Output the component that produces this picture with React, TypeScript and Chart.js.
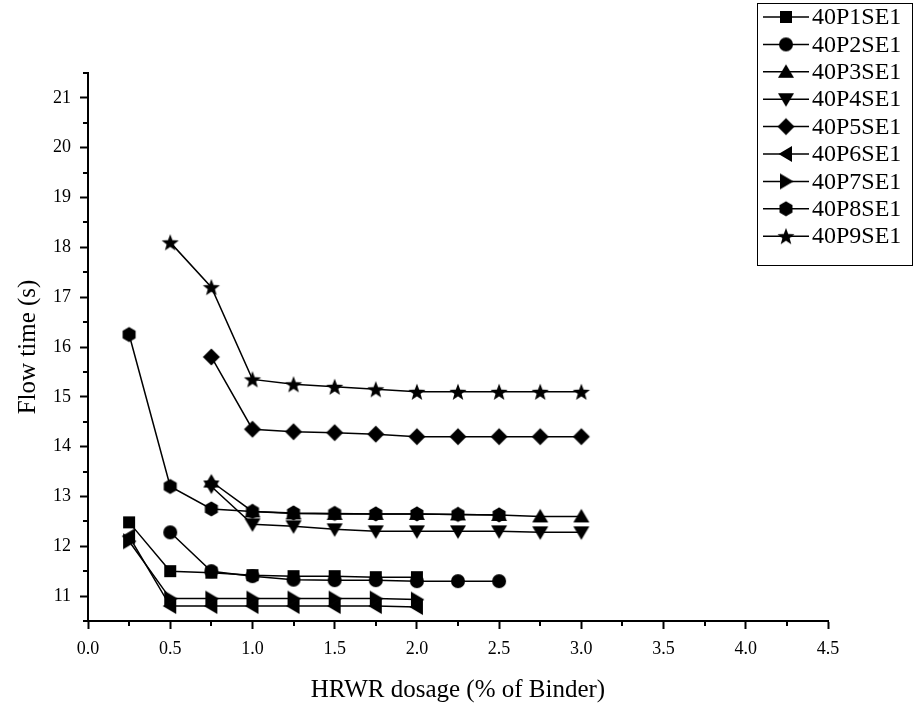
import React, { useEffect, useRef } from "react";
import { Chart, registerables } from "chart.js";

Chart.register(...registerables);

// HRWR dosage steps (% of binder)
const dosages = [0.25, 0.5, 0.75, 1.0, 1.25, 1.5, 1.75, 2.0, 2.25, 2.5, 2.75, 3.0];

// Flow time (s) per mix; each series starts at the dosage given in its start value
const p1Start = 0.25;
const p1Flow = [12.48, 11.5, 11.47, 11.42, 11.4, 11.4, 11.38, 11.38];
const p2Start = 0.5;
const p2Flow = [12.28, 11.5, 11.4, 11.33, 11.32, 11.32, 11.3, 11.3, 11.3];
const p3Start = 0.75;
const p3Flow = [13.3, 12.7, 12.66, 12.65, 12.65, 12.65, 12.64, 12.63, 12.6, 12.6];
const p4Start = 0.75;
const p4Flow = [13.2, 12.44, 12.4, 12.34, 12.3, 12.3, 12.3, 12.3, 12.28, 12.28];
const p5Start = 0.75;
const p5Flow = [15.8, 14.35, 14.3, 14.28, 14.25, 14.2, 14.2, 14.2, 14.2, 14.2];
const p6Start = 0.25;
const p6Flow = [12.2, 10.8, 10.8, 10.8, 10.8, 10.8, 10.8, 10.78];
const p7Start = 0.25;
const p7Flow = [12.1, 10.95, 10.95, 10.95, 10.95, 10.95, 10.95, 10.93];
const p8Start = 0.25;
const p8Flow = [16.25, 13.2, 12.75, 12.7, 12.67, 12.66, 12.65, 12.65, 12.64, 12.63];
const p9Start = 0.5;
const p9Flow = [18.1, 17.2, 15.35, 15.25, 15.2, 15.15, 15.1, 15.1, 15.1, 15.1, 15.1];

const seriesNames = [
  "40P1SE1", "40P2SE1", "40P3SE1", "40P4SE1", "40P5SE1",
  "40P6SE1", "40P7SE1", "40P8SE1", "40P9SE1",
];

const xTickLabels = ["0.0", "0.5", "1.0", "1.5", "2.0", "2.5", "3.0", "3.5", "4.0", "4.5"];
const yTickValues = [11, 12, 13, 14, 15, 16, 17, 18, 19, 20, 21];

const SERIF = "'Liberation Serif', 'Times New Roman', serif";

type Shape = "square" | "circle" | "up" | "down" | "diamond" | "left" | "right" | "hexagon" | "star";
const shapes: Shape[] = ["square", "circle", "up", "down", "diamond", "left", "right", "hexagon", "star"];

function makeMarker(shape: Shape): HTMLCanvasElement {
  const size = 22;
  const c = document.createElement("canvas");
  c.width = size;
  c.height = size;
  const g = c.getContext("2d")!;
  const cx = size / 2;
  const cy = size / 2;
  g.fillStyle = "#000";
  g.beginPath();
  const poly = (pts: [number, number][]) => {
    pts.forEach(([px, py], i) => (i === 0 ? g.moveTo(cx + px, cy + py) : g.lineTo(cx + px, cy + py)));
    g.closePath();
  };
  switch (shape) {
    case "square":
      g.rect(cx - 6, cy - 6, 12, 12);
      break;
    case "circle":
      g.arc(cx, cy, 7, 0, Math.PI * 2);
      break;
    case "up":
      poly([[0, -7.5], [8, 6], [-8, 6]]);
      break;
    case "down":
      poly([[0, 7.5], [8, -6], [-8, -6]]);
      break;
    case "left":
      poly([[-7.5, 0], [6, -8], [6, 8]]);
      break;
    case "right":
      poly([[7.5, 0], [-6, -8], [-6, 8]]);
      break;
    case "diamond":
      poly([[0, -8.5], [8.5, 0], [0, 8.5], [-8.5, 0]]);
      break;
    case "hexagon": {
      const pts: [number, number][] = [];
      for (let i = 0; i < 6; i++) {
        const a = -Math.PI / 2 + (i * Math.PI) / 3;
        pts.push([7.5 * Math.cos(a), 7.5 * Math.sin(a)]);
      }
      poly(pts);
      break;
    }
    case "star": {
      const pts: [number, number][] = [];
      for (let i = 0; i < 10; i++) {
        const a = -Math.PI / 2 + (i * Math.PI) / 5;
        const r = i % 2 === 0 ? 9 : 3.8;
        pts.push([r * Math.cos(a), r * Math.sin(a) + 0.8]);
      }
      poly(pts);
      break;
    }
  }
  g.fill();
  return c;
}

function toPoints(start: number, flow: number[]) {
  const i0 = dosages.indexOf(start);
  return flow.map((y, i) => ({ x: dosages[i0 + i], y }));
}

export default function App() {
  const canvasRef = useRef<HTMLCanvasElement | null>(null);

  useEffect(() => {
    const canvas = canvasRef.current;
    if (!canvas) return;
    const markers = shapes.map(makeMarker);
    const allSeries = [
      toPoints(p1Start, p1Flow),
      toPoints(p2Start, p2Flow),
      toPoints(p3Start, p3Flow),
      toPoints(p4Start, p4Flow),
      toPoints(p5Start, p5Flow),
      toPoints(p6Start, p6Flow),
      toPoints(p7Start, p7Flow),
      toPoints(p8Start, p8Flow),
      toPoints(p9Start, p9Flow),
    ];

    // Short minor ticks between the labelled ones on both axes
    const minorTicks = {
      id: "minorTicks",
      afterDraw(chart: any) {
        const { ctx, scales } = chart;
        const xs = scales.x;
        const ys = scales.y;
        ctx.save();
        ctx.strokeStyle = "#000";
        ctx.lineWidth = 2;
        ctx.beginPath();
        for (let v = 0.25; v < 4.5; v += 0.5) {
          const px = Math.round(xs.getPixelForValue(v));
          ctx.moveTo(px, xs.top);
          ctx.lineTo(px, xs.top + 5);
        }
        for (let v = 10.5; v <= 21.5; v += 1) {
          const py = Math.round(ys.getPixelForValue(v));
          ctx.moveTo(ys.right, py);
          ctx.lineTo(ys.right - 5, py);
        }
        ctx.stroke();
        ctx.restore();
      },
    };

    // Boxed legend in the top-right corner
    const boxLegend = {
      id: "boxLegend",
      afterDraw(chart: any) {
        const { ctx } = chart;
        const left = 757;
        const top = 3;
        const w = 155;
        const h = 262;
        const rowH = 27.4;
        ctx.save();
        ctx.strokeStyle = "#000";
        ctx.lineWidth = 1;
        ctx.strokeRect(left + 0.5, top + 0.5, w, h);
        ctx.font = `24px ${SERIF}`;
        ctx.fillStyle = "#000";
        ctx.textBaseline = "middle";
        seriesNames.forEach((name, i) => {
          const y = top + 14 + i * rowH;
          ctx.lineWidth = 1.5;
          ctx.beginPath();
          ctx.moveTo(left + 6, y);
          ctx.lineTo(left + 52, y);
          ctx.stroke();
          const m = markers[i];
          ctx.drawImage(m, left + 29 - m.width / 2, y - m.height / 2);
          ctx.fillText(name, left + 55, y + 1);
        });
        ctx.restore();
      },
    };

    const chart = new Chart(canvas, {
      type: "line",
      data: {
        datasets: allSeries.map((pts, i) => ({
          label: seriesNames[i],
          data: pts,
          borderColor: "#000",
          backgroundColor: "#000",
          borderWidth: 1.5,
          pointStyle: markers[i],
          pointRadius: 8,
          tension: 0,
        })),
      },
      options: {
        animation: false,
        responsive: false,
        devicePixelRatio: 1,
        layout: { padding: { top: 73, right: 86, left: 0, bottom: 0 } },
        plugins: { legend: { display: false }, tooltip: { enabled: false } },
        scales: {
          x: {
            type: "linear",
            min: 0,
            max: 4.5,
            ticks: {
              stepSize: 0.5,
              color: "#000",
              font: { family: SERIF, size: 18 },
              padding: 9,
              callback: (_v: any, i: number) => xTickLabels[i] ?? "",
            },
            grid: {
              drawOnChartArea: false,
              drawTicks: true,
              tickLength: 8,
              tickWidth: 2,
              tickColor: "#000",
              color: "#000",
            },
            border: { display: true, color: "#000", width: 2 },
            title: {
              display: true,
              text: "HRWR dosage (% of Binder)",
              color: "#000",
              font: { family: SERIF, size: 25 },
              padding: { top: 0, bottom: 1 },
            },
            afterFit: (s: any) => {
              s.height = 85;
            },
          },
          y: {
            type: "linear",
            min: 10.5,
            max: 21.5,
            ticks: {
              color: "#000",
              font: { family: SERIF, size: 18 },
              padding: 9,
            },
            afterBuildTicks: (s: any) => {
              s.ticks = yTickValues.map((value) => ({ value }));
            },
            grid: {
              drawOnChartArea: false,
              drawTicks: true,
              tickLength: 8,
              tickWidth: 2,
              tickColor: "#000",
              color: "#000",
            },
            border: { display: true, color: "#000", width: 2 },
            title: {
              display: true,
              text: "Flow time (s)",
              color: "#000",
              font: { family: SERIF, size: 25 },
              padding: { top: 13, bottom: 0 },
            },
            afterFit: (s: any) => {
              s.width = 88;
            },
          },
        },
      },
      plugins: [minorTicks, boxLegend],
    });

    return () => chart.destroy();
  }, []);

  return (
    <div style={{ position: "absolute", left: 0, top: 0, width: 914, height: 706, background: "#fff" }}>
      <canvas ref={canvasRef} width={914} height={706} />
    </div>
  );
}
